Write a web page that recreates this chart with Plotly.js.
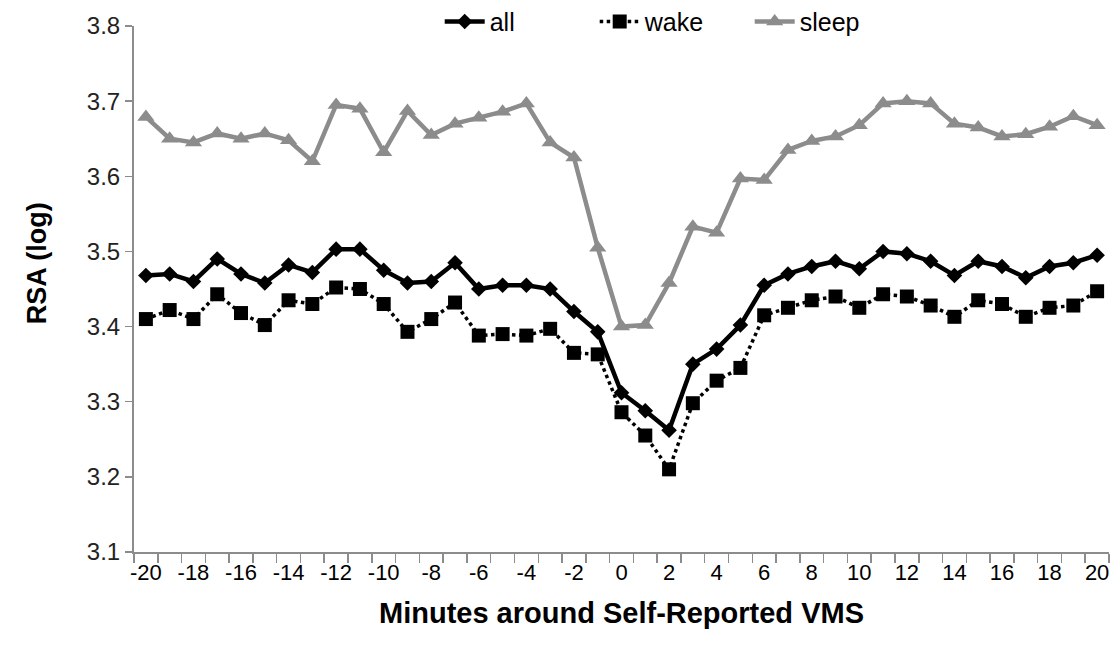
<!DOCTYPE html>
<html><head><meta charset="utf-8">
<script src="https://cdn.plot.ly/plotly-3.0.1.min.js"></script>
<style>html,body{margin:0;padding:0;background:#fff}#chart{width:1119px;height:658px}</style>
</head><body><div id="chart"></div>
<script>
const minutes = [-20,-19,-18,-17,-16,-15,-14,-13,-12,-11,-10,-9,-8,-7,-6,-5,-4,-3,-2,-1,0,1,2,3,4,5,6,7,8,9,10,11,12,13,14,15,16,17,18,19,20];
const allVals = [3.468,3.470,3.460,3.490,3.470,3.458,3.482,3.472,3.503,3.503,3.475,3.458,3.460,3.485,3.450,3.455,3.455,3.450,3.420,3.393,3.312,3.288,3.262,3.350,3.370,3.402,3.455,3.470,3.480,3.487,3.477,3.500,3.497,3.487,3.468,3.487,3.480,3.465,3.480,3.485,3.495];
const wakeVals = [3.410,3.422,3.410,3.443,3.418,3.402,3.435,3.430,3.452,3.450,3.430,3.393,3.410,3.432,3.388,3.390,3.388,3.397,3.365,3.363,3.286,3.255,3.210,3.298,3.328,3.345,3.415,3.425,3.435,3.440,3.425,3.443,3.440,3.428,3.413,3.435,3.430,3.413,3.425,3.428,3.447];
const sleepVals = [3.679,3.650,3.645,3.657,3.650,3.657,3.648,3.620,3.695,3.690,3.632,3.687,3.655,3.670,3.678,3.686,3.697,3.645,3.625,3.505,3.400,3.402,3.458,3.533,3.525,3.597,3.595,3.635,3.647,3.653,3.668,3.697,3.700,3.697,3.670,3.665,3.653,3.656,3.666,3.680,3.668];
const xTickVals = [-20,-18,-16,-14,-12,-10,-8,-6,-4,-2,0,2,4,6,8,10,12,14,16,18,20];
const xTickText = xTickVals.map(String);
const yTickVals = [3.1,3.2,3.3,3.4,3.5,3.6,3.7,3.8];

const sans = '"Liberation Sans", Arial, sans-serif';

const traces = [
  {x: minutes, y: allVals, name: 'all', type: 'scatter', mode: 'lines+markers',
   line: {color: '#000000', width: 4.5}, marker: {symbol: 'diamond', size: 12, color: '#000000'}},
  {x: minutes, y: wakeVals, name: 'wake', type: 'scatter', mode: 'lines+markers',
   line: {color: '#000000', width: 3.5, dash: 'dot'}, marker: {symbol: 'square', size: 14, color: '#000000'}},
  {x: minutes, y: sleepVals, name: 'sleep', type: 'scatter', mode: 'lines+markers',
   line: {color: '#8c8c8c', width: 4.5}, marker: {symbol: 'triangle-up', size: 15, color: '#8c8c8c'}}
];

const layout = {
  width: 1119, height: 658,
  margin: {l: 134, r: 10, t: 26, b: 106, autoexpand: false},
  paper_bgcolor: '#ffffff', plot_bgcolor: '#ffffff',
  showlegend: true,
  legend: {orientation: 'h', x: 0.552, xanchor: 'center', y: 1.008, yanchor: 'middle',
           font: {family: sans, size: 25, color: '#000'}, itemwidth: 40, entrywidth: 100, bgcolor: 'rgba(0,0,0,0)'},
  xaxis: {
    range: [-20.5, 20.5], tickmode: 'array', tickvals: xTickVals, ticktext: xTickText,
    ticks: '', showgrid: false, zeroline: false, showline: true, linecolor: '#8c8c8c', linewidth: 2,
    tickfont: {family: sans, size: 22, color: '#000'},
    minor: {tickmode: 'linear', tick0: -20.5, dtick: 1, ticks: 'outside', ticklen: 9, tickwidth: 1.5, tickcolor: '#8c8c8c', showgrid: false},
    title: {text: 'Minutes around Self-Reported VMS', font: {family: sans, size: 29, color: '#000', weight: 'bold'}, standoff: 18}
  },
  yaxis: {
    range: [3.1, 3.8], tickmode: 'array', tickvals: yTickVals, ticktext: yTickVals.map(v => v.toFixed(1)),
    ticks: 'outside', ticklen: 7, tickwidth: 1.5, tickcolor: '#8c8c8c',
    showgrid: false, zeroline: false, showline: true, linecolor: '#8c8c8c', linewidth: 2,
    tickfont: {family: sans, size: 24, color: '#222'}
  },
  annotations: [
    {text: 'RSA (log)', xref: 'paper', yref: 'paper', x: -0.1, xanchor: 'center', y: 0.548, yanchor: 'middle',
     textangle: -90, showarrow: false, font: {family: sans, size: 27, color: '#000', weight: 'bold'}}
  ]
};

Plotly.newPlot('chart', traces, layout, {displayModeBar: false, staticPlot: true});
</script>
</body></html>
